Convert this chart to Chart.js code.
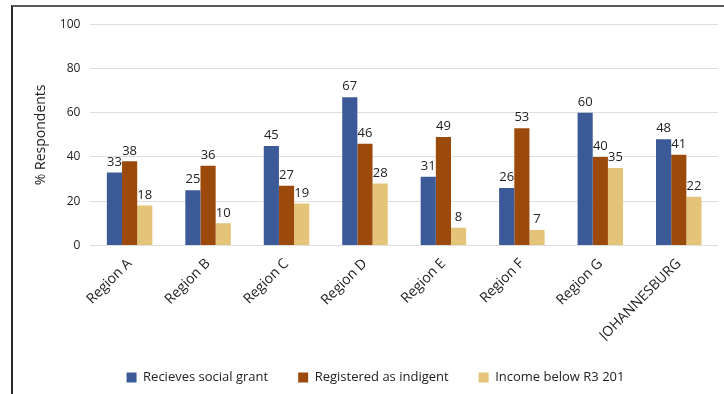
<!DOCTYPE html>
<html>
<head>
<meta charset="utf-8">
<script src="https://cdn.jsdelivr.net/npm/chart.js@4"></script>
<style>
  html, body { margin: 0; padding: 0; background: #fff; }
  #frame {
    position: absolute; left: 11px; top: 5px; width: 713px; height: 389px;
    border-top: 2px solid #5a5a5a; border-left: 2px solid #2a2a2a;
    box-sizing: border-box;
  }
  #wrap { position: absolute; left: 0; top: 0; width: 711px; height: 387px; }
</style>
</head>
<body>
<div id="frame"><div id="wrap"><canvas id="c"></canvas></div></div>
<script>
const categories = ['Region A', 'Region B', 'Region C', 'Region D', 'Region E', 'Region F', 'Region G', 'JOHANNESBURG'];
const socialGrant = [33, 25, 45, 67, 31, 26, 60, 48];
const indigent = [38, 36, 27, 46, 49, 53, 40, 41];
const lowIncome = [18, 10, 19, 28, 8, 7, 35, 22];
const yTicks = [0, 20, 40, 60, 80, 100];

const FONT = "'Open Sans', 'Noto Sans', sans-serif";

// Writes each bar's value just above its top
const valueLabels = {
  id: 'valueLabels',
  afterDatasetsDraw(chart) {
    const ctx = chart.ctx;
    ctx.save();
    ctx.font = '13px ' + FONT;
    ctx.fillStyle = '#222';
    ctx.textAlign = 'center';
    ctx.textBaseline = 'bottom';
    chart.data.datasets.forEach((ds, i) => {
      chart.getDatasetMeta(i).data.forEach((bar, j) => {
        ctx.fillText(ds.data[j], bar.x, bar.y - 4);
      });
    });
    ctx.restore();
  }
};

new Chart(document.getElementById('c'), {
  type: 'bar',
  data: {
    labels: categories,
    datasets: [
      { label: 'Recieves social grant', data: socialGrant, backgroundColor: '#3d5a98' },
      { label: 'Registered as indigent', data: indigent, backgroundColor: '#9b4a0b' },
      { label: 'Income below R3 201', data: lowIncome, backgroundColor: '#e3c479' }
    ]
  },
  options: {
    responsive: true,
    maintainAspectRatio: false,
    animation: false,
    layout: { padding: { left: 20, right: 6, top: 10, bottom: 0 } },
    datasets: { bar: { categoryPercentage: 0.58, barPercentage: 1.0 } },
    plugins: {
      legend: {
        position: 'bottom',
        labels: {
          boxWidth: 10, boxHeight: 10, padding: 30,
          color: '#222', font: { family: FONT, size: 13 }
        }
      },
      tooltip: { enabled: false }
    },
    scales: {
      x: {
        grid: { display: false },
        border: { display: false },
        afterFit(axis) { axis.height -= 5; },
        ticks: {
          minRotation: 45, maxRotation: 45, padding: 2,
          color: '#222', font: { family: FONT, size: 14 }
        }
      },
      y: {
        min: 0, max: 100,
        afterBuildTicks(axis) { axis.ticks = yTicks.map(v => ({ value: v })); },
        grid: { color: '#dedede', drawTicks: false, lineWidth: 1 },
        border: { display: false },
        ticks: { padding: 10, color: '#222', font: { family: FONT, size: 12 } },
        title: {
          display: true, text: '% Respondents', color: '#222',
          padding: { top: 0, bottom: 0 },
          font: { family: FONT, size: 14 }
        }
      }
    }
  },
  plugins: [valueLabels]
});
</script>
</body>
</html>
